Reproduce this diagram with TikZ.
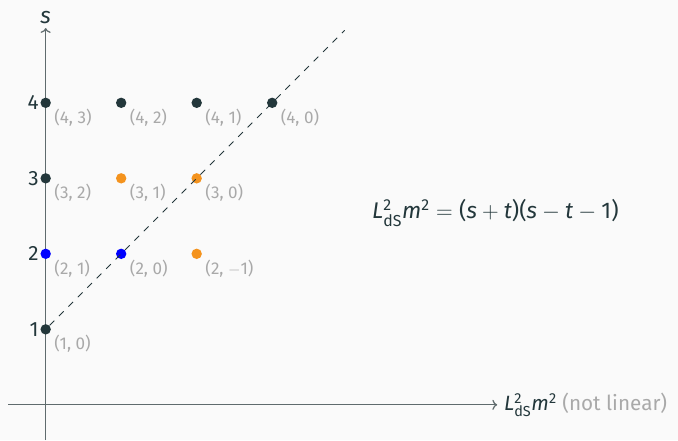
\documentclass[tikz,border=0pt]{standalone}
\usepackage{amsmath}
\usepackage{fontspec}
\setmainfont{Fira Sans}
\usetikzlibrary{arrows.meta,positioning}
\definecolor{mdark}{HTML}{23373B}
\definecolor{morange}{HTML}{F4931E}
\definecolor{mblue}{HTML}{0000FF}
\definecolor{mgray}{HTML}{A9A9A9}
\definecolor{maxis}{HTML}{5F6B6D}
\definecolor{mbg}{HTML}{FAFAFA}
\tikzset{
  dot/.style={circle,fill=#1,inner sep=0pt,minimum size=7.8pt},
  ptlabel/.style={anchor=north west,inner sep=1.5pt,xshift=2pt,text=mgray,font=\fontsize{12.8}{14}\selectfont},
  ticklabel/.style={anchor=east,inner sep=1pt,text=mdark,font=\fontsize{15.5}{17}\selectfont},
  axisline/.style={maxis,line width=0.9pt},
}

\begin{document}
\begin{tikzpicture}[x=56.6pt,y=56.6pt,font=\fontsize{17}{19}\selectfont]
\fill[mbg] (-0.605,-0.466) rectangle (8.375,5.362);
\useasboundingbox (-0.605,-0.466) rectangle (8.375,5.362);
% axes
\coordinate (ybot) at (0,-0.466);
\coordinate (ytop) at (0,4.99);
\coordinate (xleft) at (-0.495,0);
\coordinate (xright) at (5.98,0);
\draw[axisline,->] (ybot) -- (ytop);
\draw[axisline,->] (xleft) -- (xright);
\node[text=mdark,above=0pt of ytop] (slab) {\textit{s}};
\node[anchor=west,inner sep=2pt,xshift=3pt,text=mdark,font=\fontsize{15.5}{17}\selectfont] (xlab) at (xright)
  {\textit{L}$^{\text{2}}_{\text{dS}}$\textit{m}$^{\text{2}}$ \textcolor{mgray}{(not linear)}};
% points, x = s - t - 1, y = s
\node[dot=mdark] (p10) at (0,1) {};
\node[dot=mblue] (p21) at (0,2) {};
\node[dot=mblue] (p20) at (1,2) {};
\node[dot=morange] (p2m) at (2,2) {};
\node[dot=mdark] (p32) at (0,3) {};
\node[dot=morange] (p31) at (1,3) {};
\node[dot=morange] (p30) at (2,3) {};
\node[dot=mdark] (p43) at (0,4) {};
\node[dot=mdark] (p42) at (1,4) {};
\node[dot=mdark] (p41) at (2,4) {};
\node[dot=mdark] (p40) at (3,4) {};
% ticks on the s axis
\node[ticklabel] (t1) at (p10.west) {1};
\node[ticklabel] (t2) at (p21.west) {2};
\node[ticklabel] (t3) at (p32.west) {3};
\node[ticklabel] (t4) at (p43.west) {4};
% (s, t) labels
\node[ptlabel] (l10) at (p10.south east) {(1, 0)};
\node[ptlabel] (l21) at (p21.south east) {(2, 1)};
\node[ptlabel] (l20) at (p20.south east) {(2, 0)};
\node[ptlabel] (l2m) at (p2m.south east) {(2, $-$1)};
\node[ptlabel] (l32) at (p32.south east) {(3, 2)};
\node[ptlabel] (l31) at (p31.south east) {(3, 1)};
\node[ptlabel] (l30) at (p30.south east) {(3, 0)};
\node[ptlabel] (l43) at (p43.south east) {(4, 3)};
\node[ptlabel] (l42) at (p42.south east) {(4, 2)};
\node[ptlabel] (l41) at (p41.south east) {(4, 1)};
\node[ptlabel] (l40) at (p40.south east) {(4, 0)};
% t = 0 line
\coordinate (dashend) at (3.96,4.96);
\draw[mdark,line width=0.6pt,dash pattern=on 5pt off 5pt] (p10) -- (dashend);
% the relation
\node[anchor=west,inner sep=0pt,text=mdark] (eqn) at (4.32,2.54)
  {\textit{L}$^{\text{2}}_{\text{dS}}$\textit{m}$^{\text{2}} = {}$(\textit{s}${}+{}$\textit{t})(\textit{s}${}-{}$\textit{t}${}-{}$1)};
\end{tikzpicture}
\end{document}
